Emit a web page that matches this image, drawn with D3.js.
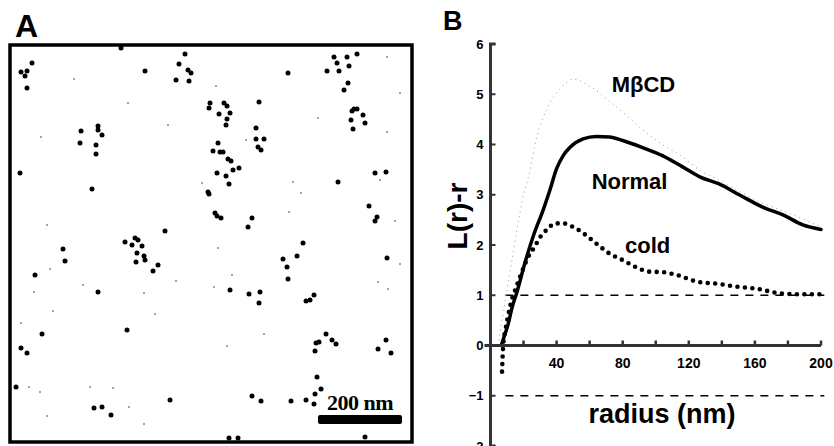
<!DOCTYPE html>
<html lang="en">
<head>
	<meta charset="utf-8">
	<title>L(r)-r clustering</title>
	<script src="https://d3js.org/d3.v7.min.js"></script>
	<style>
		body { margin: 0; background: #fff; }
		svg { display: block; }
		text { font-family: "Liberation Sans", Arial, sans-serif; font-weight: bold; fill: #000; }
	</style>
</head>
<body>
	<script>
	// ---- panel A : gold particles (micrograph pixel coords, 0..402 x 0..397)
	var bigDots = [
		[22,18],[11,27],[17,26],[15,31],[17,43],[135,26],[175,9],[169,19],[178,25],[181,28],
		[166,35],[179,36],[278,28],[324,12],[337,12],[347,9],[327,18],[339,21],[317,26],[329,26],
		[338,38],[334,45],[200,58],[199,63],[214,58],[217,61],[220,68],[209,69],[217,74],[216,80],
		[249,57],[344,64],[342,66],[347,64],[353,70],[341,75],[355,78],[343,84],[88,81],[88,85],
		[71,86],[92,90],[70,98],[86,100],[86,109],[246,83],[246,94],[254,94],[248,102],[251,105],
		[208,98],[203,106],[210,107],[213,107],[218,114],[221,116],[229,123],[223,125],[207,128],[216,131],
		[219,139],[10,128],[365,128],[376,127],[328,137],[82,144],[198,147],[199,149],[359,161],[205,168],
		[207,171],[211,173],[367,172],[365,176],[242,173],[238,182],[155,186],[115,197],[125,193],[128,195],
		[122,200],[132,201],[127,208],[134,211],[135,215],[126,217],[148,220],[143,226],[53,204],[55,216],
		[293,198],[287,211],[273,214],[277,222],[278,234],[377,213],[25,230],[88,247],[220,245],[239,249],
		[250,247],[249,258],[296,256],[300,255],[304,250],[32,289],[117,285],[316,289],[306,298],[309,297],
		[322,295],[326,299],[305,306],[376,295],[368,304],[381,308],[11,303],[17,308],[307,332],[6,342],
		[311,344],[305,349],[296,355],[304,359],[242,351],[251,356],[281,356],[160,355],[84,363],[92,362],
		[101,370],[219,393],[228,393],[355,392],[111,3]
	];
	var specks = [
		[64,34],[118,58],[158,80],[31,92],[283,137],[291,148],[308,73],[390,48],[279,167],[37,180],
		[208,203],[222,230],[24,247],[43,266],[145,269],[11,278],[254,289],[217,301],[80,342],[103,343],
		[19,342],[30,347],[37,371],[119,362],[134,379],[378,244],[368,237],[390,219],[385,176],[377,87],
		[40,224],[73,240],[192,138],[377,12],[206,41],[236,95],[370,135],[134,248],[204,242],[166,236]
	];

	// ---- panel B : L(r)-r versus radius (nm)
	var xTicks = [0, 20, 40, 60, 80, 100, 120, 140, 160, 180, 200];
	var xLabels = [40, 80, 120, 160, 200];
	var yTicks = [-2, -1, 0, 1, 2, 3, 4, 5, 6];
	var refLevels = [1, -1];
	var refRange = [9, 202];

	var normalR = [6.5, 8, 10.8, 13, 15.8, 20.8, 25.8, 31.9, 35.9, 40, 44, 48, 56, 64, 72, 80, 92, 104, 116, 127, 138, 151, 165, 177, 189, 200];
	var normalV = [0, 0.15, 0.44, 0.75, 1.04, 1.64, 2.17, 2.7, 3.09, 3.52, 3.78, 3.94, 4.11, 4.16, 4.15, 4.08, 3.94, 3.78, 3.56, 3.35, 3.22, 2.99, 2.75, 2.6, 2.4, 2.31];

	var coldR = [7, 7.3, 7.8, 9, 11, 13.5, 14.9, 16.3, 17.9, 19.9, 21.9, 23.9, 26.9, 28.9, 31.9, 34.9, 39, 44, 50, 58, 64, 72, 80, 88, 96, 104, 113, 125, 137, 149, 161, 173, 185, 200];
	var coldV = [-0.52, -0.25, 0.05, 0.3, 0.65, 0.98, 1.1, 1.23, 1.37, 1.54, 1.7, 1.83, 1.97, 2.1, 2.23, 2.33, 2.43, 2.43, 2.36, 2.19, 2.03, 1.83, 1.7, 1.56, 1.47, 1.46, 1.4, 1.27, 1.23, 1.17, 1.13, 1.05, 1.02, 1.02];

	var mbcdR = [5, 6.7, 10, 13, 16, 20, 23, 28, 34, 42, 50, 62, 72, 86, 94, 104, 115, 127, 140, 160, 180, 200];
	var mbcdV = [0.1, 0.44, 1.1, 1.7, 2.3, 3.0, 3.36, 4.15, 4.7, 5.1, 5.3, 5.12, 4.86, 4.47, 4.24, 4.0, 3.78, 3.48, 3.26, 2.9, 2.64, 2.36];

	// curve labels, in data units (radius, L(r)-r) of their left baseline point
	var curveLabels = [
		{ name: "M\u03b2CD", r: 73.3, v: 5.05 },
		{ name: "Normal", r: 61.2, v: 3.12 },
		{ name: "cold", r: 81.4, v: 1.84 }
	];

	var w = 834;
	var h = 446;
	var axisColor = "#333";

	var svg = d3.select("body")
		.append("svg")
		.attr("width", w)
		.attr("height", h);

	// ================= Panel A =================
	var ax = d3.scaleLinear().domain([0, 402]).range([10, 412]);
	var ay = d3.scaleLinear().domain([0, 397]).range([45, 442]);

	svg.append("text")
		.attr("x", 15)
		.attr("y", 37)
		.style("font-size", "32px")
		.text("A");

	var panelA = svg.append("g");

	panelA.selectAll("circle.speck")
		.data(specks)
		.enter()
		.append("circle")
		.attr("class", "speck")
		.attr("cx", function(d) { return ax(d[0]); })
		.attr("cy", function(d) { return ay(d[1]); })
		.attr("r", 0.8)
		.attr("fill", "#333");

	panelA.selectAll("circle.dot")
		.data(bigDots)
		.enter()
		.append("circle")
		.attr("class", "dot")
		.attr("cx", function(d) { return ax(d[0]); })
		.attr("cy", function(d) { return ay(d[1]); })
		.attr("r", 2.5)
		.attr("fill", "#000");

	// frame
	panelA.append("rect")
		.attr("x", ax(0))
		.attr("y", ay(0))
		.attr("width", ax(402) - ax(0))
		.attr("height", ay(397) - ay(0))
		.attr("fill", "none")
		.attr("stroke", "#000")
		.attr("stroke-width", 3.5);

	// scale bar
	panelA.append("rect")
		.attr("x", 318)
		.attr("y", 415)
		.attr("width", 84)
		.attr("height", 9)
		.attr("rx", 2)
		.attr("fill", "#000");

	panelA.append("text")
		.attr("x", 360)
		.attr("y", 410)
		.attr("text-anchor", "middle")
		.style("font-family", "'Liberation Serif', 'Times New Roman', serif")
		.style("font-size", "22px")
		.style("letter-spacing", "-0.5px")
		.text("200 nm");

	// ================= Panel B =================
	var xs = d3.scaleLinear().domain([0, 200]).range([490.5, 821]);
	var ys = d3.scaleLinear().domain([-2, 6]).range([446, 44]);
	var x0 = xs(0);
	var yTop = ys(6);
	var yBot = ys(-2);
	var yZero = ys(0);

	svg.append("text")
		.attr("x", 443)
		.attr("y", 30)
		.style("font-size", "27px")
		.text("B");

	// dashed reference lines at +1 / -1
	svg.selectAll("line.ref")
		.data(refLevels)
		.enter()
		.append("line")
		.attr("class", "ref")
		.attr("x1", xs(refRange[0]))
		.attr("x2", xs(refRange[1]))
		.attr("y1", function(d) { return ys(d); })
		.attr("y2", function(d) { return ys(d); })
		.attr("stroke", "#000")
		.attr("stroke-width", 1.6)
		.attr("stroke-dasharray", "8 7");

	var line = d3.line()
		.x(function(d) { return xs(d[0]); })
		.y(function(d) { return ys(d[1]); })
		.curve(d3.curveMonotoneX);

	// MbCD : faint stippled curve
	svg.append("path")
		.datum(d3.zip(mbcdR, mbcdV))
		.attr("d", line)
		.attr("fill", "none")
		.attr("stroke", "#999")
		.attr("stroke-width", 1)
		.attr("stroke-dasharray", "1 4");

	// cold : big round dots
	svg.append("path")
		.datum(d3.zip(coldR, coldV))
		.attr("d", line)
		.attr("fill", "none")
		.attr("stroke", "#000")
		.attr("stroke-width", 4.6)
		.attr("stroke-linecap", "round")
		.attr("stroke-dasharray", "0 7.5");

	// Normal : thick solid
	svg.append("path")
		.datum(d3.zip(normalR, normalV))
		.attr("d", line)
		.attr("fill", "none")
		.attr("stroke", "#000")
		.attr("stroke-width", 3.5)
		.attr("stroke-linejoin", "round")
		.attr("stroke-linecap", "round");

	// ---- axes, drawn on top
	// y axis line with bracket stubs
	svg.append("path")
		.attr("class", "yaxis")
		.attr("d", "M" + (x0 + 5) + "," + yBot + "H" + x0 + "V" + yTop + "H" + (x0 + 5))
		.attr("fill", "none")
		.attr("stroke", axisColor)
		.attr("stroke-width", 3);

	// x axis line along zero
	svg.append("path")
		.attr("class", "xaxis")
		.attr("d", "M" + (x0 - 6) + "," + yZero + "H" + xs(200))
		.attr("fill", "none")
		.attr("stroke", axisColor)
		.attr("stroke-width", 3);

	svg.selectAll("path.ytick")
		.data(yTicks)
		.enter()
		.append("path")
		.attr("class", "ytick")
		.attr("d", function(d) { return "M" + x0 + "," + ys(d) + "h5"; })
		.attr("stroke", axisColor)
		.attr("stroke-width", 2);

	svg.selectAll("path.xtick")
		.data(xTicks)
		.enter()
		.append("path")
		.attr("class", "xtick")
		.attr("d", function(d) { return "M" + xs(d) + "," + yZero + "v-5"; })
		.attr("stroke", axisColor)
		.attr("stroke-width", 2.5);

	svg.selectAll("text.ylab")
		.data(yTicks)
		.enter()
		.append("text")
		.attr("class", "ylab")
		.attr("x", x0 - 7)
		.attr("y", function(d) { return ys(d); })
		.attr("dy", "0.36em")
		.attr("text-anchor", "end")
		.style("font-size", "13px")
		.text(d3.format("d"));

	svg.selectAll("text.xlab")
		.data(xLabels)
		.enter()
		.append("text")
		.attr("class", "xlab")
		.attr("x", function(d) { return xs(d); })
		.attr("y", yZero + 22)
		.attr("text-anchor", "middle")
		.style("font-size", "14px")
		.text(function(d) { return d; });

	// curve names
	svg.selectAll("text.curve")
		.data(curveLabels)
		.enter()
		.append("text")
		.attr("class", "curve")
		.attr("x", function(d) { return xs(d.r); })
		.attr("y", function(d) { return ys(d.v); })
		.style("font-size", "22px")
		.text(function(d) { return d.name; });

	// axis titles
	svg.append("text")
		.attr("text-anchor", "middle")
		.attr("transform", "translate(467,216) rotate(-90)")
		.style("font-size", "28px")
		.text("L(r)-r");

	svg.append("text")
		.attr("x", 662)
		.attr("y", 423)
		.attr("text-anchor", "middle")
		.style("font-size", "27px")
		.text("radius (nm)");
	</script>
</body>
</html>
